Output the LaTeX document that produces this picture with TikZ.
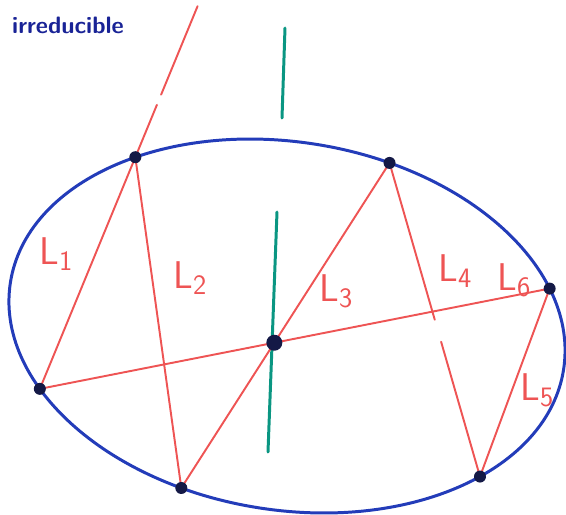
\documentclass[tikz,border=0pt]{standalone}
\usepackage{fontspec}
\usetikzlibrary{calc}
\definecolor{penred}{RGB}{238,84,84}
\definecolor{penblue}{RGB}{35,60,185}
\definecolor{pennavy}{RGB}{25,35,150}
\definecolor{penteal}{RGB}{10,150,130}
\definecolor{pendot}{RGB}{20,25,70}
\newcommand{\lineno}[1]{L\raisebox{-0.35ex}{\fontsize{16}{16}\selectfont #1}}
\begin{document}
\begin{tikzpicture}[x=0.02cm, y=-0.02cm, line cap=round, line join=round,
    conic/.style={penblue, line width=1.7pt},
    chord/.style={penred, line width=1.1pt},
    polar/.style={penteal, line width=1.7pt},
    chordname/.style={penred, font=\sffamily\fontsize{22}{24}\selectfont, inner sep=0pt}]
  \useasboundingbox (0,0) rectangle (566,515);

  % Conic: tilted ellipse, six points on it
  \coordinate (O) at (287,326);
  \begin{scope}[shift={(O)}, rotate=-9]
    \draw[conic] (0,0) ellipse [x radius=280, y radius=184];
    \coordinate (P1) at (-129:280 and 184);
    \coordinate (P2) at (-74.3:280 and 184);
    \coordinate (P3) at (-25.1:280 and 184);
    \coordinate (P4) at (40.1:280 and 184);
    \coordinate (P5) at (106.4:280 and 184);
    \coordinate (P6) at (146.8:280 and 184);
  \end{scope}

  % Point where L3 and L6 meet
  \coordinate (C) at (intersection of P5--P2 and P6--P3);

  % Green line through C, and the short one above
  \coordinate (T1) at (277,212);
  \coordinate (T2) at (268,452);
  \coordinate (T3) at (285,28);
  \coordinate (T4) at (282,118);
  \draw[polar] (T1) -- (T2);
  \draw[polar] (T3) -- (T4);

  % Chords L1 ... L6
  \draw[chord] (P6) -- (P1) -- ($(P6)!1.226!(P1)$);
  \draw[chord] ($(P6)!1.27!(P1)$) -- ($(P6)!1.652!(P1)$);
  \draw[chord] (P1) -- (P5);
  \draw[chord] (P5) -- (P2);
  \draw[chord] (P2) -- ($(P2)!0.5!(P4)$);
  \draw[chord] ($(P2)!0.57!(P4)$) -- (P4);
  \draw[chord] (P4) -- (P3);
  \draw[chord] (P6) -- (P3);

  % Points
  \foreach \p in {P1,P2,P3,P4,P5,P6}
    \fill[pendot] (\p) circle (6);
  \fill[pendot] (C) circle (8);

  % Names of the chords
  \node[chordname] (n1) at (56,254) {\lineno{1}};
  \node[chordname] (n2) at (190,278) {\lineno{2}};
  \node[chordname] (n3) at (336,291) {\lineno{3}};
  \node[chordname] (n4) at (455,271) {\lineno{4}};
  \node[chordname] (n6) at (514,280) {\lineno{6}};
  \node[chordname] (n5) at (537,390) {\lineno{5}};

  \node[pennavy, font=\sffamily\bfseries\fontsize{13.5}{16}\selectfont] (irr) at (68,25) {irreducible};
\end{tikzpicture}
\end{document}
